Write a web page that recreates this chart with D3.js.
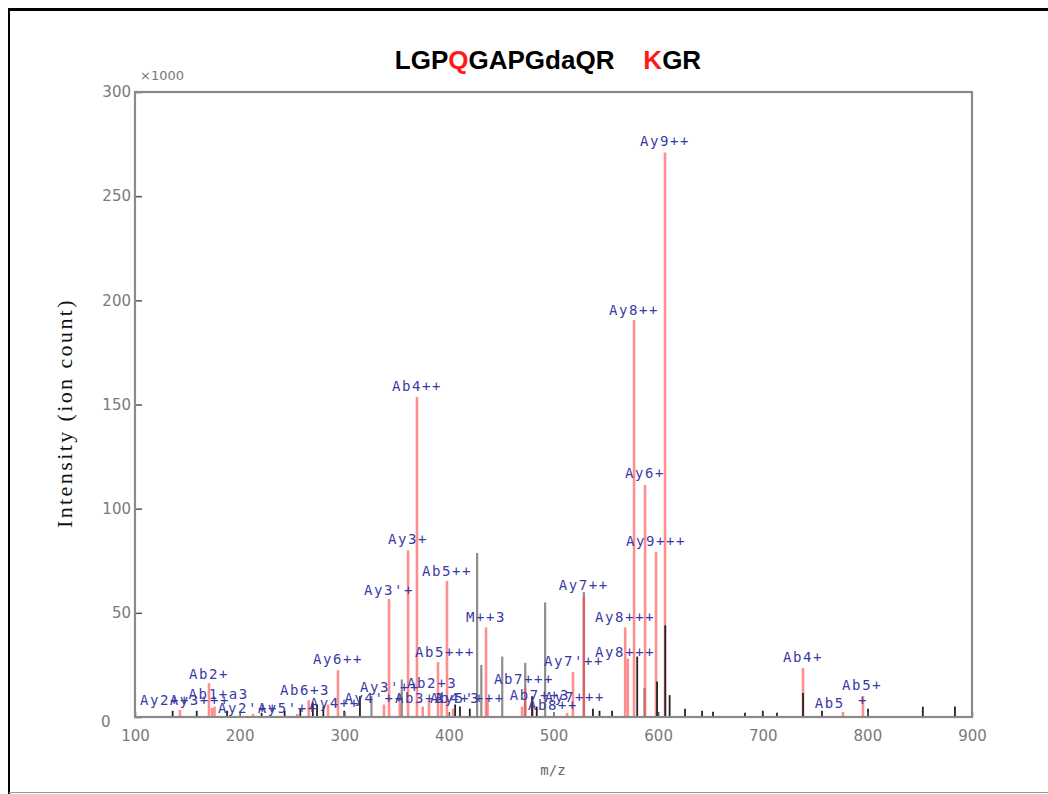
<!DOCTYPE html>
<html>
<head>
<meta charset="utf-8">
<script src="https://cdn.jsdelivr.net/npm/d3@7/dist/d3.min.js"></script>
<style>
  html, body { margin: 0; padding: 0; background: #fff; }
  svg { display: block; }
</style>
</head>
<body>
<svg id="chart" width="1048" height="794"></svg>
<script>
// ---------- data ----------
const titleParts = [
  { t: "LGP", c: "#000" }, { t: "Q", c: "#ff1a1a" }, { t: "GAPGdaQR", c: "#000" },
  { t: "    ", c: "#000" }, { t: "K", c: "#ff1a1a" }, { t: "GR", c: "#000" }
];
const xTicks = [100, 200, 300, 400, 500, 600, 700, 800, 900];
const yTicks = [0, 50, 100, 150, 200, 250, 300];

// matched (red) peaks: m/z and intensity (x1000)
const redMz  = [143, 170.7, 173.6, 176, 212.8, 255, 266, 284.5, 294, 338, 342.8, 353, 361, 369.5, 375, 381, 389.6, 393, 398.2, 404, 435.5, 437, 470, 472.8, 480, 513, 518.6, 529, 568.5, 571, 577, 587.5, 598, 606.6, 738.5, 776.7, 795.8];
const redInt = [3.4, 16.3, 4.3, 5, 1.5, 1.5, 8, 6, 22.5, 6, 56.6, 7, 80, 153.6, 5, 8, 26.4, 7, 65.3, 4, 43, 9, 5, 14, 6, 2, 21.6, 57.6, 43, 28, 190.6, 111.4, 79.2, 271, 23.5, 2.4, 10];

// unmatched peaks, light grey
const greyMz  = [355, 427, 431, 451, 473, 492, 529, 587, 326];
const greyInt = [18, 78.7, 25, 29, 26, 55, 60, 14, 10];

// unmatched peaks, dark
const darkMz  = [136, 159, 188, 221, 243, 258, 270, 274, 280, 300, 315, 406, 410.6, 420, 479.5, 484, 537.7, 544, 556, 580, 599, 606.8, 611, 625.7, 642, 652.5, 683, 700, 713.6, 738.5, 756.6, 800.6, 853, 883.7];
const darkInt = [3, 3, 3, 2, 3, 4, 7, 6, 5, 3, 10, 6, 5, 4, 10, 5, 4, 3, 3, 29, 17, 44, 10.5, 4, 3, 2.5, 2, 3, 2, 11.5, 3, 4, 5, 5];

// peak annotations: text, m/z of label centre, intensity at label baseline
const labelText = ["Ay9++", "Ay8++", "Ab4++", "Ay6+", "Ay9+++", "Ay3+", "Ab5++", "Ay3'+", "Ay7++", "M++3",
                   "Ay8+++", "Ay8+++", "Ab5+++", "Ay6++", "Ab2+", "Ay7'++", "Ab7+++", "Ab4+", "Ab5+", "Ab5", "+",
                   "Ay2++", "Ay3+++", "Ab1+a3", "Ay2'++", "Ay5'++", "Ab6+3", "Ay4++",
                   "Ay3'++", "Ab2+3", "Ay4'++", "Ab3+3", "Ab4+3", "Ay5'+++", "Ab7++3", "Ay7+++", "Ab8++"];
const labelMz   = [606.6, 577, 369.5, 587.5, 598, 361, 398.2, 342.8, 529, 435.5,
                   568.5, 568.5, 396.3, 294, 170.7, 519.6, 471.8, 738.5, 795, 764, 795.8,
                   128.7, 162, 180, 208, 246, 262.5, 291,
                   343.7, 384, 329, 372.4, 406, 420, 487, 520.5, 499.5];
const labelInt  = [274, 193, 156.5, 114.7, 82, 83, 67.7, 58.6, 61, 45.6,
                   45.6, 28.8, 28.8, 25.4, 18.2, 24.5, 15.8, 26.4, 13, 4.3, 5.8,
                   5.8, 5.8, 8.5, 1.9, 1.9, 10.6, 4.3,
                   12, 13.9, 6.7, 6.7, 6.7, 6.7, 8.2, 7.2, 3.4];

// ---------- layout ----------
const svg = d3.select("#chart");
const X0 = 135, X1 = 972, Y0 = 92, Y1 = 717;
const x = d3.scaleLinear().domain([100, 900]).range([X0, X1]);
const y = d3.scaleLinear().domain([0, 300]).range([Y1, Y0]);

// outer frame
svg.append("line").attr("x1", 9).attr("y1", 9.5).attr("x2", 1048).attr("y2", 9.5)
  .attr("stroke", "#000").attr("stroke-width", 3);
svg.append("line").attr("x1", 9).attr("y1", 8).attr("x2", 9).attr("y2", 794)
  .attr("stroke", "#000").attr("stroke-width", 2);
svg.append("line").attr("x1", 9).attr("y1", 792.5).attr("x2", 1048).attr("y2", 792.5)
  .attr("stroke", "#999").attr("stroke-width", 1);

// title
const title = svg.append("text").attr("x", 548).attr("y", 69)
  .attr("text-anchor", "middle")
  .attr("font-family", "'Liberation Sans', Arial, sans-serif")
  .attr("font-weight", "bold").attr("font-size", 26)
  .attr("xml:space", "preserve").style("white-space", "pre");
titleParts.forEach(p => title.append("tspan").attr("fill", p.c).text(p.t));

// peaks
const peaks = svg.append("g");
peaks.selectAll("line.grey").data(d3.zip(greyMz, greyInt)).join("line")
  .attr("class", "grey")
  .attr("x1", d => x(d[0])).attr("x2", d => x(d[0]))
  .attr("y1", y(0)).attr("y2", d => y(d[1]))
  .attr("stroke", "#8e8e8e").attr("stroke-width", 2.2);
peaks.selectAll("line.red").data(d3.zip(redMz, redInt)).join("line")
  .attr("class", "red")
  .attr("x1", d => x(d[0])).attr("x2", d => x(d[0]))
  .attr("y1", y(0)).attr("y2", d => y(d[1]))
  .attr("stroke", "#ff4a4a").attr("stroke-opacity", 0.62).attr("stroke-width", 2.6);
peaks.selectAll("line.dark").data(d3.zip(darkMz, darkInt)).join("line")
  .attr("class", "dark")
  .attr("x1", d => x(d[0])).attr("x2", d => x(d[0]))
  .attr("y1", y(0)).attr("y2", d => y(d[1]))
  .attr("stroke", "#222").attr("stroke-width", 1.8);

// axes
const yAxis = svg.append("g").attr("transform", `translate(${X0},0)`)
  .call(d3.axisLeft(y).tickValues(yTicks).tickSizeInner(-7).tickSizeOuter(0).tickPadding(4));
const xAxis = svg.append("g").attr("transform", `translate(0,${Y1})`)
  .call(d3.axisBottom(x).tickValues(xTicks).tickSizeInner(-5).tickSizeOuter(0).tickPadding(13));
[xAxis, yAxis].forEach(a => {
  a.select(".domain").remove();
  a.selectAll(".tick line").attr("stroke", "#555").attr("stroke-width", 1.5);
  a.selectAll(".tick text").attr("fill", "#7a7a7a")
    .attr("font-family", "'DejaVu Sans', sans-serif").attr("font-size", 15);
});
// the zero label sits lower and further left in the original
yAxis.selectAll(".tick").filter(d => d === 0).select("text")
  .attr("x", -34).attr("dy", "0.32em").attr("text-anchor", "start")
  .attr("transform", "translate(0,5)");

// plot border
svg.append("rect").attr("x", X0).attr("y", Y0).attr("width", X1 - X0).attr("height", Y1 - Y0)
  .attr("fill", "none").attr("stroke", "#8a8a8a").attr("stroke-width", 2.2);

// ×1000 multiplier
svg.append("text").attr("x", 140).attr("y", 80).attr("fill", "#777")
  .attr("font-family", "'DejaVu Sans', sans-serif").attr("font-size", 13).text("×1000");

// axis titles
svg.append("text").attr("x", 553).attr("y", 775).attr("text-anchor", "middle")
  .attr("fill", "#666").attr("font-family", "'DejaVu Sans Mono', monospace").attr("font-size", 14)
  .text("m/z");
svg.append("text").attr("transform", "translate(72,413) rotate(-90)")
  .attr("text-anchor", "middle").attr("fill", "#111")
  .attr("font-family", "'Liberation Serif', 'Times New Roman', serif").attr("font-size", 22)
  .attr("letter-spacing", 2.4)
  .text("Intensity (ion count)");

// peak labels
svg.append("g").selectAll("text").data(d3.zip(labelText, labelMz, labelInt)).join("text")
  .attr("x", d => x(d[1])).attr("y", d => y(d[2]))
  .attr("text-anchor", "middle")
  .attr("fill", "#3a3aa6")
  .attr("font-family", "'DejaVu Sans Mono', monospace").attr("font-size", 14)
  .attr("letter-spacing", 1.6)
  .text(d => d[0]);
</script>
</body>
</html>
